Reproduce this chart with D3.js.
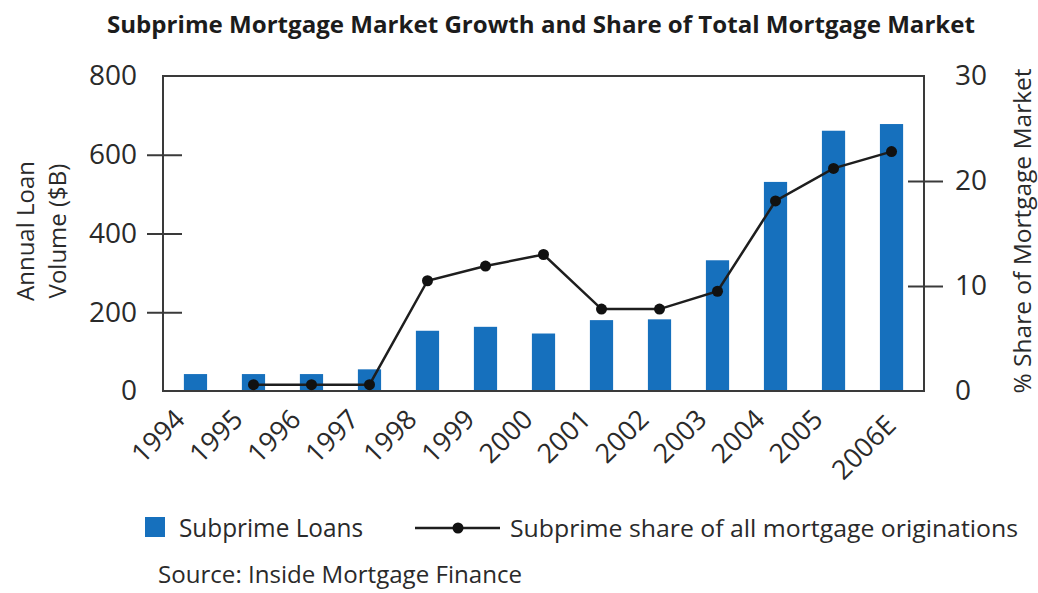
<!DOCTYPE html>
<html>
<head>
<meta charset="utf-8">
<script src="https://cdn.jsdelivr.net/npm/d3@7"></script>
<style>
  body { margin: 0; background: #fff; }
  svg { display: block; }
  text { font-family: "Open Sans", "Noto Sans", sans-serif; fill: #2a2a2a; }
</style>
</head>
<body>
<svg id="chart" width="1038" height="593"></svg>
<script>
// Subprime originations by year ($ billions) and share of all originations (%)
const years = ["1994", "1995", "1996", "1997", "1998", "1999", "2000",
               "2001", "2002", "2003", "2004", "2005", "2006E"];
const loanVolume = [43, 43, 43, 55, 153, 163, 146, 180, 182, 332, 531, 661, 678];
const shareYears = ["1995", "1996", "1997", "1998", "1999", "2000",
                    "2001", "2002", "2003", "2004", "2005", "2006E"];
const sharePct = [0.6, 0.6, 0.6, 10.5, 11.9, 13.0, 7.8, 7.8, 9.5, 18.1, 21.2, 22.8];
const volumeTicks = [0, 200, 400, 600, 800];
const shareTicks = [0, 10, 20, 30];

const titleText = "Subprime Mortgage Market Growth and Share of Total Mortgage Market";
const leftTitle = ["Annual Loan", "Volume ($B)"];
const rightTitle = "% Share of Mortgage Market";
const legendBars = "Subprime Loans";
const legendLine = "Subprime share of all mortgage originations";
const sourceText = "Source: Inside Mortgage Finance";

const svg = d3.select("#chart");
const plot = { left: 163, right: 924, top: 76, bottom: 391 };
const BAR = "#1670bd";
const INK = "#3a3a3a";

const x = d3.scaleBand(years, [plot.left, plot.right])
  .paddingInner(0.6).paddingOuter(0.36);
const yL = d3.scaleLinear([0, 800], [plot.bottom, plot.top]);
const yR = d3.scaleLinear([0, 30], [plot.bottom, plot.top]);
const cx = d => x(d) + x.bandwidth() / 2;

// Title
svg.append("text")
  .attr("x", 107).attr("y", 33)
  .attr("font-size", 24).attr("font-weight", 700)
  .attr("textLength", 868).attr("lengthAdjust", "spacingAndGlyphs")
  .style("fill", "#1c1c1c")
  .text(titleText);

// Bars
svg.append("g").selectAll("rect")
  .data(years.map((y, i) => ({ year: y, v: loanVolume[i] })))
  .join("rect")
  .attr("x", d => x(d.year))
  .attr("width", x.bandwidth())
  .attr("y", d => yL(d.v))
  .attr("height", d => yL(0) - yL(d.v))
  .attr("fill", BAR);

// Plot frame
svg.append("rect")
  .attr("x", plot.left).attr("y", plot.top)
  .attr("width", plot.right - plot.left).attr("height", plot.bottom - plot.top)
  .attr("fill", "none").attr("stroke", INK).attr("stroke-width", 2);

// Left axis: ticks cross the axis line
const gL = svg.append("g").attr("transform", `translate(${plot.left},0)`)
  .call(d3.axisLeft(yL).tickValues(volumeTicks).tickSize(16).tickPadding(10));
gL.select(".domain").remove();
gL.selectAll(".tick line").attr("stroke", INK).attr("stroke-width", 2)
  .attr("x2", -16);
gL.selectAll(".tick").append("line").attr("x2", 19)
  .attr("stroke", INK).attr("stroke-width", 2);
gL.selectAll(".tick").filter(d => d === 0 || d === 800).selectAll("line").remove();
gL.selectAll(".tick text").attr("font-size", 28).attr("font-family", null)
  .style("fill", "#2a2a2a");

// Right axis
const gR = svg.append("g").attr("transform", `translate(${plot.right},0)`)
  .call(d3.axisRight(yR).tickValues(shareTicks).tickSize(19).tickPadding(12));
gR.select(".domain").remove();
gR.selectAll(".tick line").attr("stroke", INK).attr("stroke-width", 2);
gR.selectAll(".tick").append("line").attr("x2", -16)
  .attr("stroke", INK).attr("stroke-width", 2);
gR.selectAll(".tick").filter(d => d === 0 || d === 30).selectAll("line").remove();
gR.selectAll(".tick text").attr("font-size", 28).attr("font-family", null)
  .style("fill", "#2a2a2a");

// Category labels, rotated
svg.append("g").selectAll("text")
  .data(years)
  .join("text")
  .attr("transform", d => {
    const est = d.length > 4;
    const ax = cx(d) + (est ? 6 : -9);
    const ay = plot.bottom + (est ? 36 : 30);
    return `translate(${ax},${ay}) rotate(-45)`;
  })
  .attr("text-anchor", "end")
  .attr("font-size", 27)
  .text(d => d);

// Share line + markers
const shareData = shareYears.map((y, i) => ({ year: y, v: sharePct[i] }));
svg.append("path")
  .datum(shareData)
  .attr("fill", "none").attr("stroke", "#1e1e1e").attr("stroke-width", 2.5)
  .attr("d", d3.line().x(d => cx(d.year)).y(d => yR(d.v)));
svg.append("g").selectAll("circle")
  .data(shareData)
  .join("circle")
  .attr("cx", d => cx(d.year)).attr("cy", d => yR(d.v))
  .attr("r", 5.5).attr("fill", "#111");

// Axis titles
const lt = svg.append("text")
  .attr("transform", "translate(0,231) rotate(-90)")
  .attr("text-anchor", "middle").attr("font-size", 24);
lt.append("tspan").attr("x", 0).attr("y", 34).text(leftTitle[0]);
lt.append("tspan").attr("x", 0).attr("y", 66).text(leftTitle[1]);

svg.append("text")
  .attr("transform", "translate(1031,231) rotate(-90)")
  .attr("text-anchor", "middle").attr("font-size", 24)
  .attr("textLength", 325).attr("lengthAdjust", "spacingAndGlyphs")
  .text(rightTitle);

// Legend
svg.append("rect").attr("x", 145).attr("y", 517)
  .attr("width", 20).attr("height", 20).attr("fill", BAR);
svg.append("text").attr("x", 179).attr("y", 537)
  .attr("font-size", 25)
  .attr("textLength", 184).attr("lengthAdjust", "spacingAndGlyphs")
  .text(legendBars);
svg.append("line").attr("x1", 415).attr("x2", 500)
  .attr("y1", 528).attr("y2", 528)
  .attr("stroke", "#1e1e1e").attr("stroke-width", 2.5);
svg.append("circle").attr("cx", 458).attr("cy", 528).attr("r", 5.5).attr("fill", "#111");
svg.append("text").attr("x", 510).attr("y", 537)
  .attr("font-size", 24)
  .attr("textLength", 508).attr("lengthAdjust", "spacingAndGlyphs")
  .text(legendLine);

// Source note
svg.append("text").attr("x", 158).attr("y", 583)
  .attr("font-size", 23)
  .attr("textLength", 364).attr("lengthAdjust", "spacingAndGlyphs")
  .text(sourceText);
</script>
</body>
</html>
